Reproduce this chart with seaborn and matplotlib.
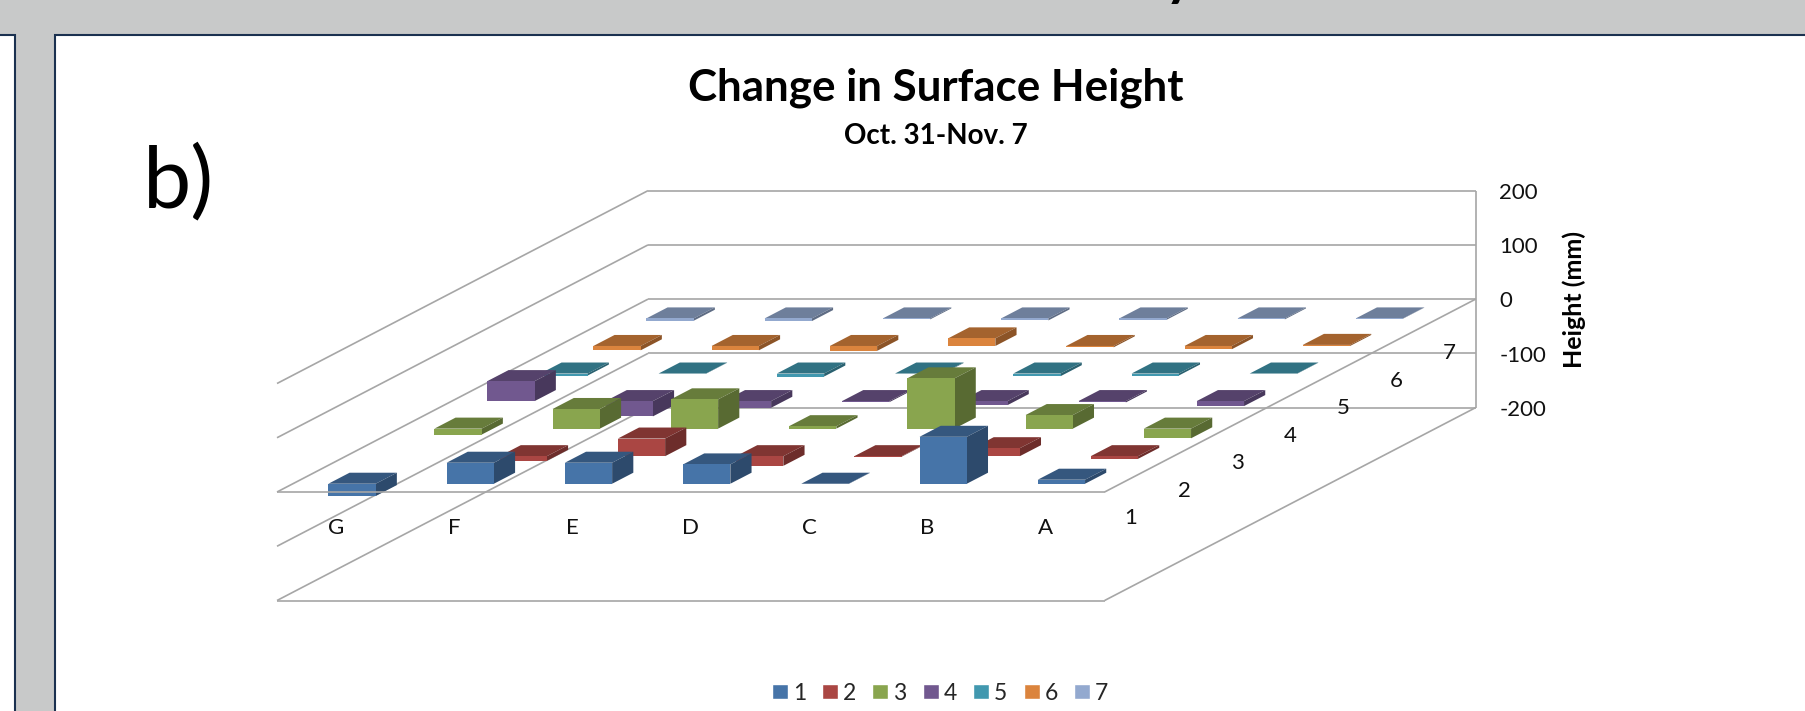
import numpy as np
import seaborn as sns
import matplotlib
matplotlib.use('Agg')
import matplotlib.pyplot as plt
from matplotlib.patches import Patch, Rectangle
from matplotlib.text import Text
from mpl_toolkits.mplot3d.art3d import Line3DCollection

sns.set_theme(style='white')
plt.rcParams['font.family'] = ['Lato', 'DejaVu Sans']

# categories, left to right as drawn
categorias = ['G', 'F', 'E', 'D', 'C', 'B', 'A']
fileiras = ['1', '2', '3', '4', '5', '6', '7']
ticks_altura = [-200, -100, 0, 100, 200]

# height change in mm (nan = no bar drawn)
fila1 = [-22.7, 38.7, 38.7, 35.6, -0.5, 86.5, 7.4]
fila2 = [np.nan, -8.6, 32.5, -17.8, -1.0, 14.7, -4.9]
fila3 = [-11.0, 36.2, 54.0, 4.5, 92.7, 25.0, -17.8]
fila4 = [36.8, -28.2, -12.3, -2.0, -7.4, -2.5, -9.2]
fila5 = [-3.7, -0.5, -5.5, -1.0, -4.9, -3.7, -0.5]
fila6 = [-8.0, -8.0, -9.0, 14.0, -2.5, -6.0, 2.0]
fila7 = [-4.3, -4.9, -1.8, -3.7, -2.5, -1.8, -0.5]
filas = [fila1, fila2, fila3, fila4, fila5, fila6, fila7]

cores = sns.color_palette(['#4674A8', '#AA4643', '#89A54E', '#71588F',
                           '#4198AF', '#DB843D', '#93A9CF'])

W, H = 1806, 711
fig = plt.figure(figsize=(W / 100, H / 100), dpi=100, facecolor='#C8C9C9')


def px(x, y):
    return x / W, 1 - y / H


# slide panels behind the chart
for x0, x1 in [(-20, 15.5), (55.5, W + 20)]:
    fx0, fy0 = px(x0, H + 20)
    fx1, fy1 = px(x1, 34.5)
    fig.add_artist(Rectangle((fx0, fy0), fx1 - fx0, fy1 - fy0, transform=fig.transFigure,
                             facecolor='white', edgecolor='#1B3150', linewidth=1.5, zorder=-1))

ax = fig.add_axes([0, 0, 1, 1], projection='3d')
ax.apply_aspect = lambda position=None: None
ax.set_position([0, 0, 1, 1])
ax.patch.set_alpha(0)
ax.set_axis_off()
ax.computed_zorder = False
ax.set_xlim(0, 7)
ax.set_ylim(0, 7)
ax.set_zlim(-200, 200)
ax.set_xticks([])
ax.set_yticks([])
ax.set_zticks([])
# the hidden 3d axis keeps empty labels around, nothing of them is wanted
for t in ax.findobj(Text):
    t.set_visible(False)

# oblique projection like the Excel chart, output in picture pixels
M = np.array([[118.23, 53.0, 0, 277],
              [0, -27.55, -0.5425, 492],
              [-0.01, 1, 0.1, 0],
              [0, 0, 0, 1]])
ax.get_proj = lambda: M
ax.viewLim.intervalx = (0, W)
ax.viewLim.intervaly = (H, 0)

# walls and floor
cor_grade = '#A6A6A6'
segs = []
for z in ticks_altura:
    segs.append([(0, 0, z), (0, 7, z)])
    segs.append([(0, 7, z), (7, 7, z)])
segs.append([(7, 7, -200), (7, 7, 200)])
segs.append([(0, 0, -200), (7, 0, -200)])
segs.append([(7, 0, -200), (7, 7, -200)])
segs.append([(7, 0, 0), (7, 7, 0)])
ax.add_collection3d(Line3DCollection(segs, colors=cor_grade, linewidths=1.2, zorder=1))

# bars from back to front so the near ones cover the far ones
for r in range(6, -1, -1):
    frente = cores[r]
    topo = tuple(c * 0.75 for c in frente)
    lado = tuple(c * 0.64 for c in frente)
    vazio = (0, 0, 0, 0)
    for i, v in enumerate(filas[r]):
        if np.isnan(v):
            continue
        base = min(v, 0)
        ax.bar3d(i + 0.3, r + 0.3, base, 0.4, 0.4, abs(v),
                 color=[vazio, topo, frente, vazio, vazio, lado],
                 shade=False, edgecolor='none', linewidth=0, zorder=10 + (6 - r))

# front edge of the zero plane sits over the bars
ax.add_collection3d(Line3DCollection([[(0, 0, 0), (7, 0, 0)]], colors=cor_grade, linewidths=1.2, zorder=30))

cor_texto = '#111111'
for i, nome in enumerate(categorias):
    ax.text(i + 0.5, 0, -66, nome, ha='center', va='center', fontsize=16, color=cor_texto, zorder=40)
for r, nome in enumerate(fileiras):
    ax.text(7, r + 0.5, -74, nome, ha='center', va='center', fontsize=16, color=cor_texto, zorder=40)
for z in ticks_altura:
    ax.text(7.2, 7, z - 4, str(z), ha='left', va='center', fontsize=16, color=cor_texto, zorder=40)

x, y = px(1574, 299)
fig.text(x, y, 'Height (mm)', rotation=90, ha='center', va='center', fontsize=18, fontweight='bold', color='black')
x, y = px(936, 88)
fig.text(x, y, 'Change in Surface Height', ha='center', va='center', fontsize=31.6, fontweight='bold', color='black')
x, y = px(936, 136)
fig.text(x, y, 'Oct. 31-Nov. 7', ha='center', va='center', fontsize=20, fontweight='bold', color='black')
x, y = px(179, 183)
fig.text(x, y, 'b)', ha='center', va='center', fontsize=62, color='black')
# bottom of the slide heading, cut by the top of the picture
x, y = px(1165, -5)
fig.text(x, y, 'y', ha='left', va='baseline', fontsize=40, fontweight='bold', color='black')

handles = [Patch(facecolor=c, label=n) for c, n in zip(cores, fileiras)]
x, y = px(940, 693)
fig.legend(handles=handles, ncol=7, loc='center', bbox_to_anchor=(x, y), frameon=False,
           fontsize=16.5, handlelength=0.7, handleheight=0.68, handletextpad=0.22, columnspacing=0.7)

plt.savefig('out.png', dpi=100, facecolor=fig.get_facecolor())
